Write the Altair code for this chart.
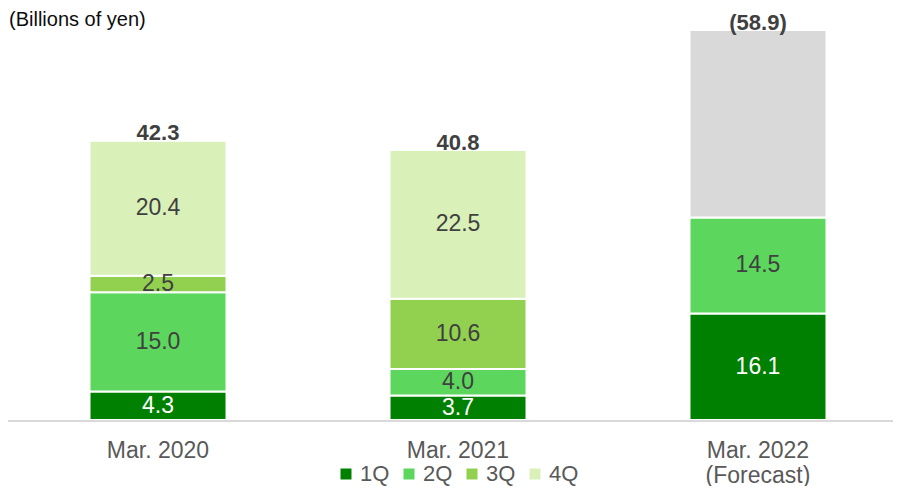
import altair as alt
import pandas as pd

years = ["Mar. 2020", "Mar. 2021", "Mar. 2022 (Forecast)"]
q1 = [4.3, 3.7, 16.1]
q2 = [15.0, 4.0, 14.5]
q3 = [2.5, 10.6, None]
q4 = [20.4, 22.5, None]
forecast_rest = [None, None, 28.3]
totals = [42.3, 40.8, 58.9]
total_labels = ["42.3", "40.8", "(58.9)"]

seg_names = ["1Q", "2Q", "3Q", "4Q", "Forecast"]
seg_colors = ["#008000", "#5CD65C", "#92D050", "#D9F0B9", "#D9D9D9"]
series = list(zip(seg_names, [q1, q2, q3, q4, forecast_rest]))

rows = []
for i, yr in enumerate(years):
    base = 0.0
    for k, (name, vals) in enumerate(series):
        v = vals[i]
        if v is None:
            continue
        rows.append(dict(year=yr, seg=name, order=k, start=base, end=base + v,
                         mid=base + v / 2, value=v))
        base += v
df = pd.DataFrame(rows)
tot_df = pd.DataFrame({"year": years, "total": totals, "label": total_labels})
note_df = pd.DataFrame({"t": ["(Billions of yen)"]})

FONT = "Liberation Sans"

xscale = alt.Scale(domain=years, paddingInner=0.5433, paddingOuter=0.2467, align=0.5507)
yscale = alt.Scale(domain=[0, 62.24], nice=False, zero=True)

xenc = alt.X("year:N", sort=years, scale=xscale, title=None,
             axis=alt.Axis(domain=False, ticks=False, tickSize=0, labelAngle=0,
                           labelFontSize=23, labelFont=FONT, labelColor="#595959",
                           labelPadding=19, labelLineHeight=25,
                           labelExpr="datum.label == 'Mar. 2022 (Forecast)' ? ['Mar. 2022', '(Forecast)'] : datum.label"))

bars = alt.Chart(df).mark_bar(stroke="white", strokeWidth=2).encode(
    x=xenc,
    y=alt.Y("start:Q", scale=yscale, axis=None),
    y2="end:Q",
    color=alt.Color("seg:N", scale=alt.Scale(domain=seg_names, range=seg_colors),
                    legend=alt.Legend(values=["1Q", "2Q", "3Q", "4Q"], title=None,
                                      orient="none", legendX=327, legendY=455,
                                      direction="horizontal", symbolType="square",
                                      symbolSize=121, symbolStrokeWidth=0,
                                      labelFontSize=22, labelFont=FONT,
                                      labelColor="#595959", columnPadding=8,
                                      labelOffset=3)),
)

axis_line = alt.Chart(note_df).mark_rule(color="#D9D9D9", strokeWidth=2).encode(
    x=alt.value(0), x2=alt.value(885), y=alt.value(413)
)

seg_labels = alt.Chart(df).transform_filter(alt.datum.seg != "Forecast").mark_text(
    fontSize=23, font=FONT, baseline="middle"
).encode(
    x=xenc,
    y=alt.Y("mid:Q", scale=yscale, axis=None),
    text=alt.Text("value:Q", format=".1f"),
    color=alt.when(alt.datum.seg == "1Q").then(alt.value("white")).otherwise(alt.value("#404040")),
)

tot_labels = alt.Chart(tot_df).mark_text(
    fontSize=22, font=FONT, fontWeight="bold", baseline="alphabetic", color="#404040"
).encode(
    x=xenc,
    y=alt.Y("total:Q", scale=yscale, axis=None),
    text="label:N",
)

note = alt.Chart(note_df).mark_text(
    fontSize=20, font=FONT, align="left", baseline="middle", color="#0D0D0D"
).encode(text="t:N", x=alt.value(1), y=alt.value(12))

chart = alt.layer(bars, axis_line, seg_labels, tot_labels, note).properties(
    width=885, height=412,
    autosize=alt.AutoSizeParams(type="none"),
    padding={"left": 0, "top": 0, "right": 0, "bottom": 66},
    background="white",
).configure_view(stroke=None)

chart.save("out.html", embed_options={"renderer": "svg", "actions": False})
